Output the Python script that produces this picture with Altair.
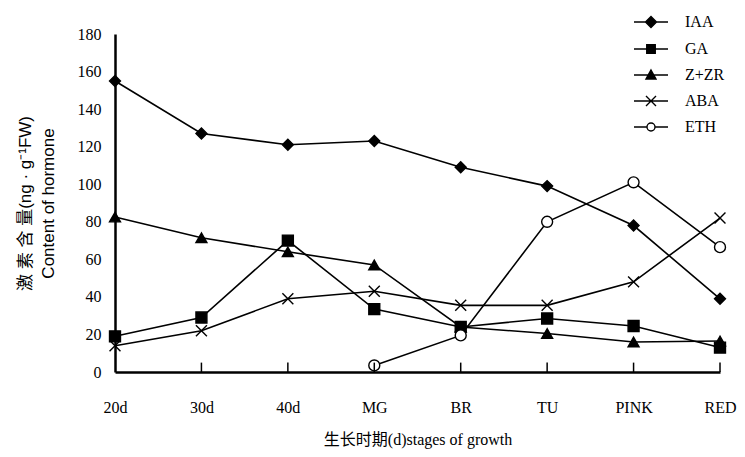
import altair as alt
import pandas as pd

stages = ["20d", "30d", "40d", "MG", "BR", "TU", "PINK", "RED"]
series_names = ["IAA", "GA", "Z+ZR", "ABA", "ETH"]
iaa = [155, 127, 121, 123, 109, 99, 78, 39]
ga = [19, 29, 70, 33.5, 24, 28.5, 24.5, 13]
zzr = [82.5, 71.5, 64, 57, 24, 20.5, 16, 16.5]
aba = [14, 22, 39, 43, 35.5, 35.5, 48, 82]
eth = [None, None, None, 3.5, 19.5, 80, 101, 66.5]
y_ticks = [0, 20, 40, 60, 80, 100, 120, 140, 160, 180]

marker_shapes = ["diamond", "square", "triangle-up", "M-1,-1L1,1M-1,1L1,-1", "circle"]
legend_shapes = [
    "M-3.4,0L-1,0M1,0L3.4,0M0,-1.1L1.1,0L0,1.1L-1.1,0Z",
    "M-3.4,0L-0.85,0M0.85,0L3.4,0M-0.85,-0.85L0.85,-0.85L0.85,0.85L-0.85,0.85Z",
    "M-3.4,0L-0.5,0M0.5,0L3.4,0M0,-1L1,0.8L-1,0.8Z",
    "M-3.4,0L3.4,0M-1,-1L1,1M-1,1L1,-1",
    "M-3.4,0L-0.8,0M0.8,0L3.4,0M0.8,0A0.8,0.8 0 1,1 -0.8,0A0.8,0.8 0 1,1 0.8,0Z",
]
fills = ["black", "black", "black", "transparent", "white"]
strokes = ["black", "black", "black", "black", "black"]

all_vals = {"IAA": iaa, "GA": ga, "Z+ZR": zzr, "ABA": aba, "ETH": eth}
rows = []
for s in series_names:
    for st, v in zip(stages, all_vals[s]):
        if v is not None:
            rows.append({"stage": st, "series": s, "value": v})
df = pd.DataFrame(rows)
tick_df = pd.DataFrame({"stage": stages[1:], "value": [0] * 7, "hi": [5] * 7})

x_scale = alt.Scale(type="point", padding=0, domain=stages)
x_enc = alt.X(
    "stage:N",
    sort=stages,
    scale=x_scale,
    axis=alt.Axis(
        title="生长时期(d)stages of growth",
        labelAngle=0,
        ticks=False,
        tickSize=0,
        labelPadding=27,
        labelFont="Liberation Serif",
        labelFontSize=16,
        titleFont="Liberation Serif, Noto Sans CJK SC",
        titleFontSize=16,
        titleFontWeight="normal",
        titlePadding=16,
        domainWidth=2.5,
        domainColor="black",
        labelColor="black",
        titleColor="black",
    ),
)
y_enc = alt.Y(
    "value:Q",
    scale=alt.Scale(domain=[0, 180], nice=False, zero=True),
    axis=alt.Axis(
        values=y_ticks,
        title=["激 素 含 量(ng · g⁻¹FW)", "Content of hormone"],
        ticks=False,
        tickSize=0,
        labelOverlap=False,
        labelPadding=14,
        labelFont="Liberation Serif",
        labelFontSize=16,
        titleFont="Liberation Sans, Noto Sans CJK SC",
        titleFontSize=17,
        titleFontWeight="normal",
        titleLineHeight=23,
        titlePadding=20,
        domainWidth=2.5,
        domainColor="black",
        labelColor="black",
        titleColor="black",
    ),
)

lines = alt.Chart(df).mark_line(color="black", strokeWidth=1.6).encode(
    x=x_enc, y=y_enc, detail="series:N"
)

points = alt.Chart(df).mark_point(stroke="black", strokeWidth=1.4, size=120, opacity=1).encode(
    x=x_enc,
    y=y_enc,
    shape=alt.Shape("series:N", scale=alt.Scale(domain=series_names, range=marker_shapes), legend=None),
    fill=alt.Fill("series:N", scale=alt.Scale(domain=series_names, range=fills), legend=None),
)

legend_cfg = alt.Legend(
    orient="none",
    legendX=528,
    legendY=-20,
    title=None,
    labelFont="Liberation Serif",
    labelFontSize=16,
    labelColor="black",
    symbolSize=100,
    symbolStrokeWidth=1.4,
    symbolOpacity=1,
    rowPadding=10,
    labelOffset=26,
)

legend_layer = alt.Chart(df).mark_point(opacity=0, size=100).encode(
    x=x_enc,
    y=y_enc,
    shape=alt.Shape("series:N", scale=alt.Scale(domain=series_names, range=legend_shapes), legend=legend_cfg),
    fill=alt.Fill("series:N", scale=alt.Scale(domain=series_names, range=fills), legend=legend_cfg),
    stroke=alt.Stroke("series:N", scale=alt.Scale(domain=series_names, range=strokes), legend=legend_cfg),
)

ticks = alt.Chart(tick_df).mark_rule(color="black", strokeWidth=1.5).encode(
    x=x_enc,
    y=y_enc,
    y2="hi:Q",
)

chart = (
    alt.layer(lines, points, legend_layer, ticks)
    .resolve_scale(shape="independent", fill="independent", stroke="independent")
    .properties(
        width=605,
        height=338,
        autosize=alt.AutoSizeParams(type="none"),
        padding={"left": 107, "top": 26, "right": 17, "bottom": 77},
        background="white",
    )
    .configure_view(stroke=None)
    .configure_axis(grid=False)
)

chart.save("out.html", embed_options={"renderer": "svg", "actions": False})
